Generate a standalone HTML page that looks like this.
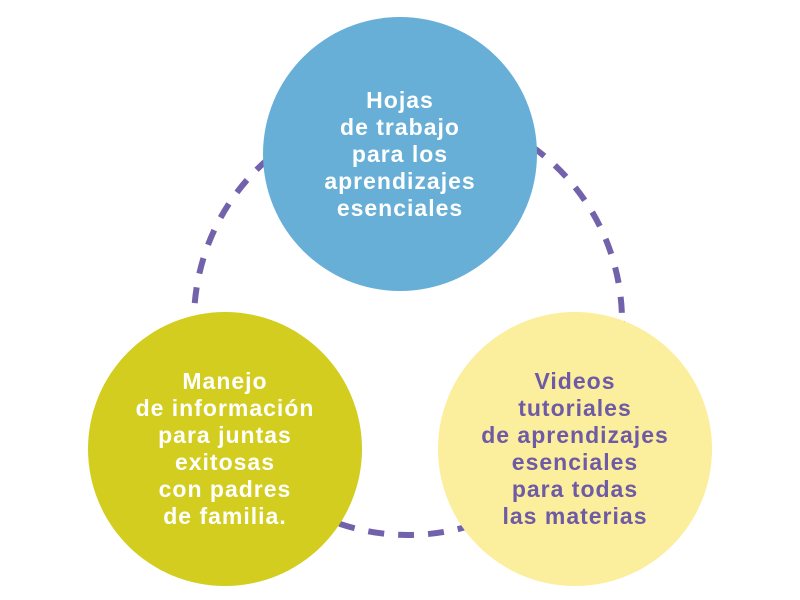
<!DOCTYPE html>
<html><head><style>
body{margin:0;width:800px;height:600px;background:#fff;overflow:hidden;position:relative;font-family:"Liberation Sans",sans-serif}
.c{position:absolute;width:274px;height:274px;border-radius:50%;display:flex;align-items:center;justify-content:center;text-align:center;font-weight:bold;font-size:23px;letter-spacing:1px;line-height:27px}
</style></head><body>
<svg width="800" height="600" style="position:absolute;left:0;top:0">
<circle cx="408" cy="321" r="214" fill="none" stroke="#7262ab" stroke-width="6" stroke-dasharray="16 14"/>
</svg>
<div class="c" style="left:263px;top:17px;background:#67afd6;color:#fff">Hojas<br>de trabajo<br>para los<br>aprendizajes<br>esenciales</div>
<div class="c" style="left:88px;top:312px;background:#d3cd1f;color:#fff">Manejo<br>de información<br>para juntas<br>exitosas<br>con padres<br>de familia.</div>
<div class="c" style="left:438px;top:312px;background:#fbee9c;color:#6e5aa5">Videos<br>tutoriales<br>de aprendizajes<br>esenciales<br>para todas<br>las materias</div>
</body></html>
